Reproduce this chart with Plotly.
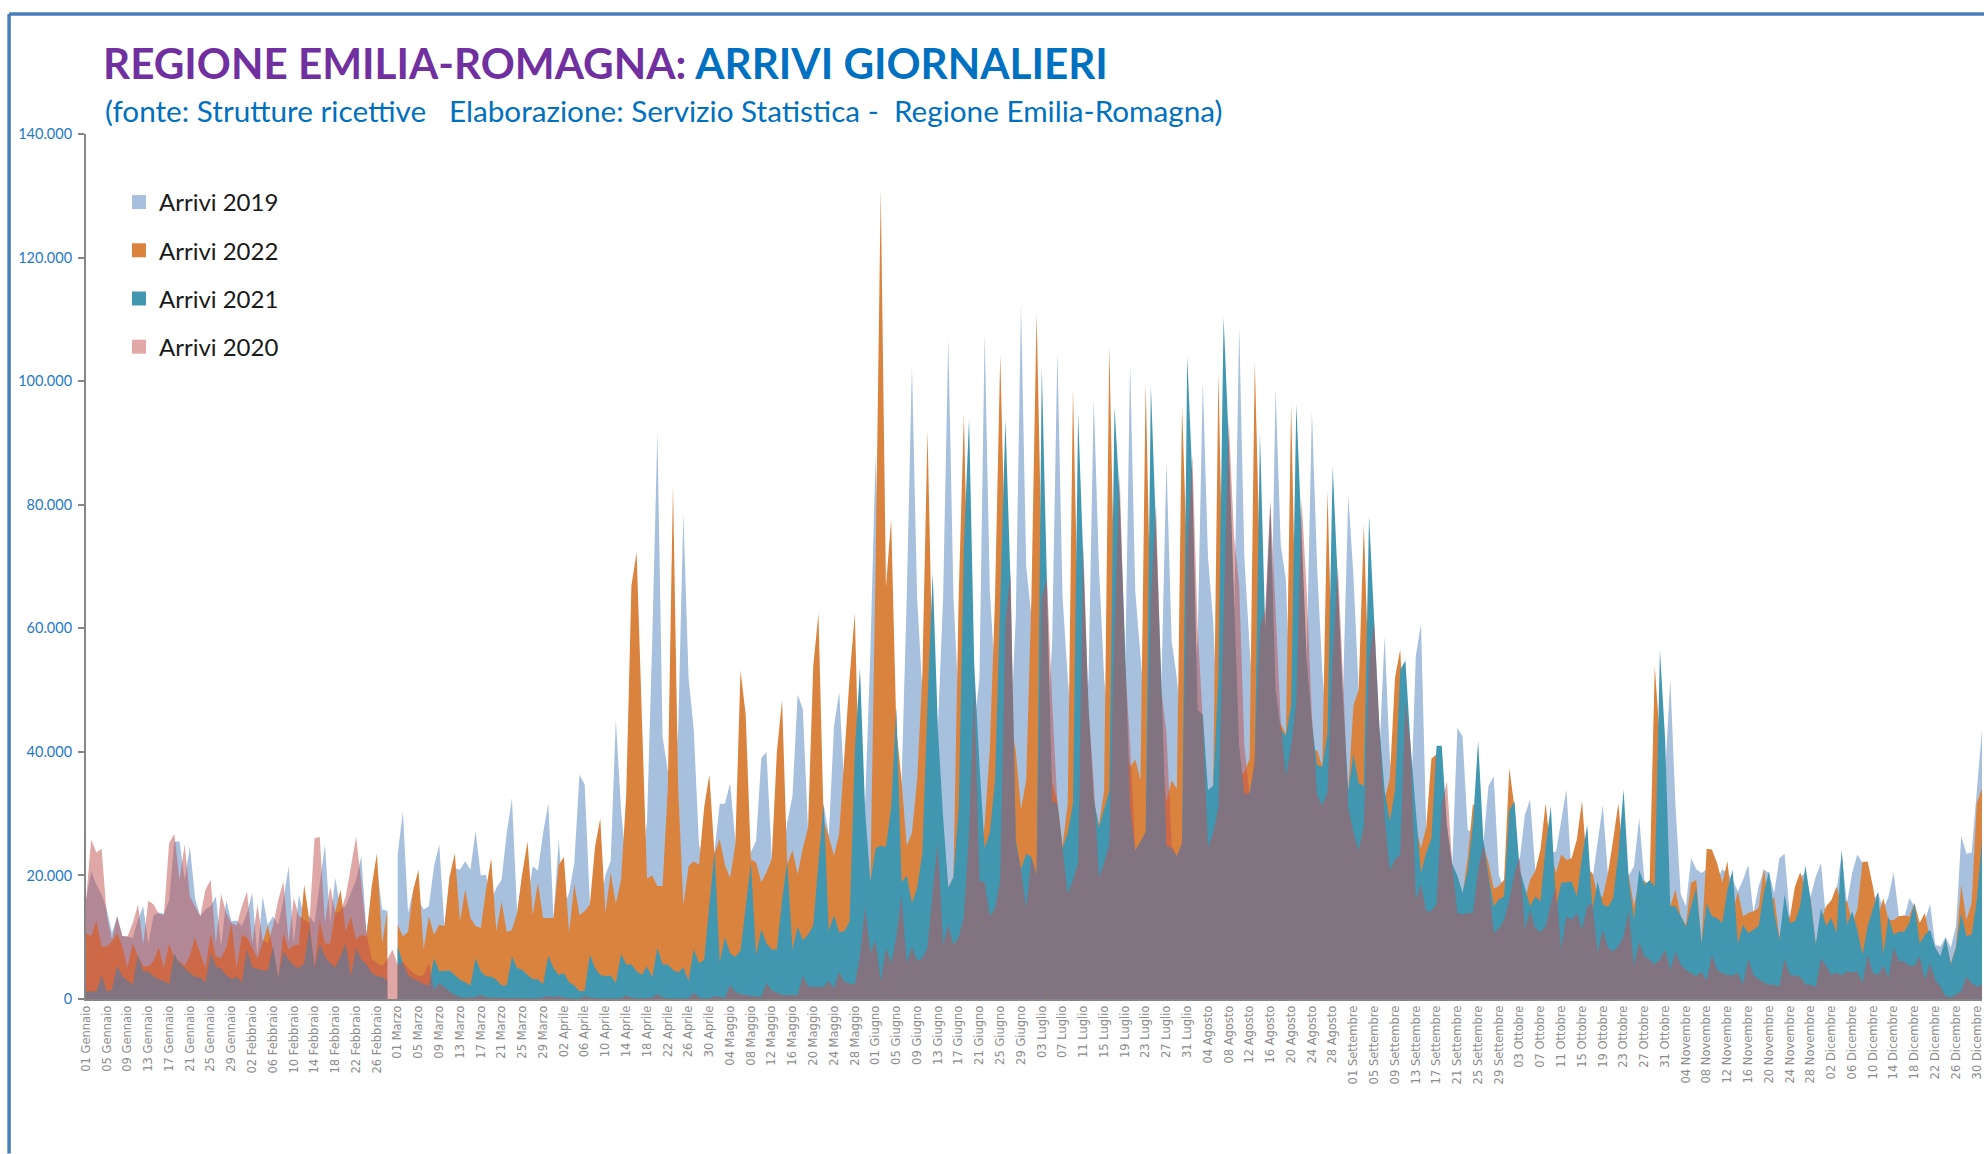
import plotly.graph_objects as go

MONTHS = [("Gennaio", 31), ("Febbraio", 29), ("Marzo", 31), ("Aprile", 30), ("Maggio", 31), ("Giugno", 30),
          ("Luglio", 31), ("Agosto", 31), ("Settembre", 30), ("Ottobre", 31), ("Novembre", 30), ("Dicembre", 31)]
DAYS = [f"{d:02d} {m}" for m, n in MONTHS for d in range(1, n + 1)]
N = None

# Values in thousands of arrivals, one block per month
ARRIVI_2019 = [
 16,20.7,18.5,16.9,14.5,10.7,13.4,10.2,10.1,9.9,12.8,15,9,13.5,14,13.8,16,25.5,25.5,19.3,24.7,16.3,13.4,14.5,15,16.6,8.5,16,12.6,12.7,11.8,
 13.9,17.2,6.9,16.6,12,13.4,12,16,21.5,9,16.9,13.1,13.4,12.3,18.8,25,12.3,19.6,14.5,15,17.2,19.3,23.1,10.7,17.7,21.5,14.5,14.3,N,
 23.4,30.4,13.9,17.7,16,14.5,15,21.5,25,11.8,19.8,21.2,20.9,22.3,20.9,27.2,20,20.1,16,18,19.3,26.9,32.5,13.9,20.4,16,21.5,20.8,26.9,31.7,13.1,
 25.8,15,17.2,22,36.3,34.7,15.5,16,15,20.1,22.3,45.2,30.6,21.5,20,25,22,28.6,58,91.8,42.4,37,32,43.6,78.6,52,43.6,25,22,20,
 24,31.6,31.6,34.9,25.6,22,20,23.8,25.6,39,40,23,20,22,28.6,32.8,49.3,46.9,27.4,26,25,31.6,26.5,44.2,49.7,34,30,28,30,32,56,
 88,62,46,30,30,35,65,102.6,65,50,42,35,44,65,106.9,65,48,42,42,44,52,107.7,66,52,45,40,43,62,112.4,70,
 62,45,40,42,58,104.8,65,52,42,38,42,52,97.1,70,52,42,40,42,50,103,66,56,45,44,40,50,87,58,52,42,44,
 50,58,99.9,71.4,61,42,40,40,60,108.9,71.4,57,45,42,45,50,98.8,73.5,67.8,44,43,45,55,95.2,70,53,42,40,43,50,81.5,
 68.5,50,38,35,40,40,58.7,38.9,33,30,28,30,55.5,60.7,28,24,22,22,28,21.5,43.9,42.5,27.3,27,25,25,34.5,36,20,18,
 16,22,22.5,29.8,32.3,21,20,20,23.6,23.9,29,33.9,20,17,20,23,19.3,25.8,31.4,20,18.8,20,23,20,21.5,29.3,19.3,18.2,17.7,25.8,36.6,
 51.7,31.2,17,15,22.8,21,20.4,21,23,19.3,21,20.4,19.3,17.4,19.3,21.7,13.9,18.2,20.9,20.4,17.2,22.8,23.5,13.4,13.4,19.8,20.4,16.6,19.8,22,
 12.8,15.8,17.7,23.6,15.5,20.4,23.4,22,22,16,17.2,14.5,16.6,20.5,13.4,13,16.3,15,12.3,12.6,15.4,8.8,8.5,10,8.3,11.8,26.4,23.5,23.7,33.9,43.6,
]
ARRIVI_2022 = [
 10.7,10.1,12.7,8.4,8.5,9.3,10.7,8.5,5,9,6.9,5.4,5.3,6.1,8.4,5,9,6.6,6.1,5.4,7,9.9,7.4,5,10.5,6.9,6.6,8.3,12.3,5,10.4,
 10,8.3,6.5,9,12,8,3.4,10.7,8,8.7,8.8,18.5,12.8,5.3,12.8,9,9,14.2,17.7,10.9,13.4,9.6,10.4,10.1,18.2,23.6,9,14.2,N,
 12,10.1,10.9,17.7,20.9,8,13.4,10.4,12,11.8,19.8,23.6,12.6,17.7,13.1,11.8,11.5,17.7,22.8,10.9,15.8,10.8,11.2,13.9,20.4,25.5,13.6,18.8,13.1,13.1,13.1,
 21.7,23,10.7,18.6,13.6,14.2,15.3,24.7,29.2,13.9,20.5,15.4,19.3,33,66.9,72.3,46,19.5,20,18.3,18.3,34,83.1,34,15.1,21.5,22.3,21.7,31,36.3,
 23.5,25.9,21.7,19.6,25,53.2,46,22.6,22.1,18.9,20.5,22.6,40,48.4,21.7,24.1,20.2,24.4,27.7,53.8,62.4,29,26.2,23.2,26.8,40,52,62.4,30,28.6,18.7,
 70,131,66.7,77.7,43.8,35.4,24.8,26.9,35.4,52.3,92,52,29.9,27.8,18,19.7,65,94.6,56.5,44.7,22.7,28.2,40.4,65,104.3,70,45,40,30.7,35.4,
 65,111,70,45,35,32,24.8,31.6,98.8,60,45,40,32,28.2,33.7,105.6,65,50,42,37.5,38.8,35.4,99.7,60,45,40,32,35.4,34,96,70,
 46,40,36,33,34.6,101.4,60,46,38,36,36.7,38.9,103.2,70,50,45,40,44.6,42.8,96.3,55,42,40,40,40.3,37.6,82.2,50,45,42,33.8,
 47.5,50,76.8,50,40,35,32.4,35.6,52,56.6,40,30,28,24.4,27.7,38.9,39.6,30,22,19,20,16.8,23,31.6,30,25,22,17.9,18.3,19.3,
 37.4,31,17.7,16,19.3,20.7,24.2,31.7,23.6,20.4,23.4,22.5,22.8,25.8,32,21,20.4,16.6,16.6,20.4,25.8,31.7,22,19.9,15,19.3,19,18.2,53.8,42,20.4,
 15,17.7,13.4,12,18.8,19.3,9,24.3,24.2,22,18.8,22.3,14,17.4,13.4,13.9,14.2,14.7,21.2,15,16.6,10,13.6,13.1,18.2,20.5,18,16.3,9,12.8,
 15,16,18.2,15,16,12.3,14.5,22.2,22.2,18.2,13.4,16.3,12.8,12.8,13.4,13.5,13.4,15.5,12.3,13.9,9.6,8.3,6.8,9.8,5.8,8.5,18.5,12.8,15.5,31.7,34.1,
]
ARRIVI_2021 = [
 1.2,1.2,1.2,3.9,1.2,1.5,5.4,3.7,2.9,2.3,7.2,4.5,4.4,3.7,3.2,2.9,2.4,7.3,5.8,5,4.2,3.6,3.5,2.7,7.5,5.3,4.9,3.9,3.2,3.6,2.7,
 8.1,5.1,4.9,4.6,4.6,8.5,3.4,7.7,6.4,5.4,5,5.8,11.5,5,9,6.9,5.8,5.1,6.9,9,3.7,8.3,6.4,5.6,4.2,3.7,3.6,3,N,
 8.5,5.8,3.9,3.2,2.9,2.4,2.2,6.6,4.5,4.5,4.6,3.9,3.1,2.7,2.2,6.6,4.5,3.7,3.6,3.1,2.2,2.2,6.9,5,4.7,3.9,3.2,3.2,2.4,7,5,
 3.9,4.2,2.7,2.2,1.3,1.3,7.2,5,3.9,3.7,3.8,2.6,7.3,5.6,5.6,4.5,3.9,5.3,3.5,8.3,5.6,5.6,4.7,4.3,5.1,2.9,8.1,5.8,6.3,15,
 24,5.9,10,7.4,6.8,7.8,15,22,7.1,11.3,9,8,8,16,22.3,8,11.7,9.5,10.4,11.9,22,31.6,11,13.6,10.8,11,12.5,40,53.5,30.4,18.9,
 24.4,24.8,24.6,31,47.2,18.9,20,15.5,18,23.5,48,69,43.8,29.4,18,19.7,31,73,94,54,37.9,24.4,27,35.4,65,93.8,67,25.6,21,23.5,
 23,20.1,102.2,66,32,31.6,24.4,26.9,31.6,94.6,70,47.2,32.4,27.8,30.7,33.7,95.9,81,58,31,24,25.6,27,99.3,76,52,24.8,24.4,23.1,25.2,104,
 84,46.8,46,33.8,34.5,52,110.4,90,65,41,33,33.4,38,91.6,60,80,50,43.6,42.6,47.5,96.3,77,55,44.6,37.8,37.6,43,86.2,67,48.3,33.8,
 39.6,34.9,34.5,78.2,61,43.9,33.8,28.8,33.8,53.3,54.8,41,30.6,20.4,23.7,25.9,41,41,28,21.9,20,17.2,20.8,28.4,41.8,25.9,20,15,16.1,16.6,
 30.6,32,21,18.2,15,16.6,15.8,24.7,31.2,15,18.8,18.9,19,16.6,23,28.2,14.5,19,15.3,14.9,16.3,23.6,33.9,19.3,12.8,20.9,18.5,19.2,18.2,56.5,42,
 15,15,13.4,11.7,15,18,9,15.5,13.4,13.1,12.3,17.7,20.9,9,12,10.7,11.2,11.8,17.2,20.7,13.9,9.6,16.9,12.3,12.6,15,21.6,16,8.8,14.7,
 11.8,13.1,10.7,24.2,12,14.2,11.2,7.2,11.8,14.5,17.4,7.2,13.4,10.4,10.9,10.9,12.3,15.5,9,10.4,11.2,8.3,6.9,9.9,5.6,8.3,13.9,10.2,10.4,16,25.8,
]
ARRIVI_2020 = [
 16,25.8,23.7,24.3,13.6,9.6,13.4,10.2,10.1,12.3,15.3,8.8,15.9,15.3,13.8,13.6,25.2,26.7,19.3,25,16.6,15,13.4,17.7,19.3,9,17,13.9,12.3,11.9,15,
 17.4,9,15.3,9.6,9,11.8,16,19,9.3,16.3,13.4,12.8,12.3,26,26.2,12.3,18.2,13.9,14.2,16.6,21.5,26.3,18.8,10.7,6.4,5.8,5.3,6.4,8,
 5.5,6.1,5,4.2,3.7,3.9,5.8,1.5,2.6,1.9,1.2,.7,.3,.2,.2,.3,.7,.3,.2,.2,.2,.1,.1,.1,.1,.1,.2,.1,.3,.5,.3,
 .5,.2,.1,.1,.1,.5,.2,.1,.1,.1,.1,.1,.1,.6,.2,.1,.1,.1,.2,.8,.3,.1,.1,.1,.1,.1,1,.3,.1,.1,
 .5,.3,.2,2.3,1.1,.8,.6,.5,.4,.3,2.6,1.4,1,.7,.6,.6,.6,3.8,2,2,1.9,2,2.9,1.7,4.4,2.8,2.5,2.3,7,15,7.4,
 9.6,2.8,8.3,5.8,10,16.8,5.8,8.5,6.2,6.6,8.3,17.6,25.2,8.7,12.1,8.7,10,13.4,27,51,19,19,13.4,14.7,19.3,61,69,25,21,14.6,
 23,20,65,68,48,31.6,24.4,16.9,19.3,22,73.5,47,35,19.7,22,25,60,85,55,41,24,25.6,27,65,80,50,43,24.8,23.1,25.2,73,
 88,60,45,24.4,27,31,62,93.8,75,67,41,33,39,60,63,80.8,63,45,36,41,48,81,66,46,33,31.3,33.4,55.5,70,52,31,
 27,24,28,55,61,44,29.5,20.8,22.6,23.3,48,41,16.1,18.6,14.2,14.2,15.4,31.6,35.3,22,13.9,13.7,13.9,13.9,20.8,25,19.4,10.7,11.4,12.8,
 16,20.4,23,11.2,14.5,11.5,10.8,11.8,15.5,18.2,8,13.4,12.8,13.9,11.2,15,15.5,7.4,11.2,8.3,7.7,8.5,10.1,14.5,5.3,9.3,6.9,6.4,5.6,6.4,8,
 4.7,7.7,5.6,4.7,4.2,3.7,4.5,2.9,7.2,4.7,4.2,3.9,3.8,4.2,2.3,6.5,3.9,3.2,2.7,2.3,2.3,2,6.6,3.9,3.8,3.6,2.4,2.3,1.9,6.6,
 5.3,3.9,4.3,3.8,4.5,4.3,4.5,2.6,7.2,4.2,3.9,5.4,3.4,8.4,6.1,6.1,5.4,5.4,6.9,3.1,5.8,3.1,2,.4,.3,.7,1.2,3.6,2.6,2,2.3,
]
for s in (ARRIVI_2019, ARRIVI_2022, ARRIVI_2021, ARRIVI_2020):
    assert len(s) == len(DAYS), len(s)

SERIES = [
    ("Arrivi 2019", ARRIVI_2019, "#A7C0DE", "#A7C0DE"),
    ("Arrivi 2022", ARRIVI_2022, "#DA833E", "#DA833E"),
    ("Arrivi 2021", ARRIVI_2021, "#4297B0", "#4297B0"),
    ("Arrivi 2020", ARRIVI_2020, "rgba(192,80,77,0.5)", "#E0A8A6"),
]
TITLE_A = "REGIONE EMILIA-ROMAGNA:"
TITLE_B = "ARRIVI GIORNALIERI"
SUBTITLE = "(fonte: Strutture ricettive   Elaborazione: Servizio Statistica -  Regione Emilia-Romagna)"

W, H = 1986, 1154
L, R, T, B = 86, 1984, 134, 999.5
px = lambda v: (v - L) / (R - L)
py = lambda v: (B - v) / (B - T)


def runs(vals):
    """Index ranges of unbroken data: a filled trace would bridge a blank day, so each run gets its own trace."""
    out, start = [], None
    for i, v in enumerate(vals + [None]):
        if v is None and start is not None:
            out.append((start, i))
            start = None
        elif v is not None and start is None:
            start = i
    return out


fig = go.Figure()
for name, vals, fill, swatch in SERIES:
    for a, b in runs(vals):
        fig.add_trace(go.Scatter(
            x=DAYS[a:b], y=[v * 1000 for v in vals[a:b]], name=name, mode="lines",
            line=dict(width=0), fill="tozeroy", fillcolor=fill, showlegend=False, legendgroup=name))
for name, vals, fill, swatch in SERIES:
    fig.add_trace(go.Scatter(
        x=[None], y=[None], name=name, mode="markers", legendgroup=name,
        marker=dict(symbol="square", size=14, color=swatch)))

fig.update_layout(
    width=W, height=H, paper_bgcolor="white", plot_bgcolor="white",
    margin=dict(l=L, r=W - R, t=T, b=H - B, pad=0),
    separators=",.",
    font=dict(family="Lato"),
    title=dict(
        text=f'<span style="color:#7030A0">{TITLE_A}</span> <span style="color:#0070C0">{TITLE_B}</span>',
        font=dict(family="Lato", size=42.2, weight="bold"),
        xref="container", yref="container", x=103 / W, xanchor="left", y=1 - 64 / H, yanchor="middle"),
    annotations=[dict(text=SUBTITLE, xref="paper", yref="paper", x=px(103), y=py(110), xanchor="left",
                      yanchor="middle", showarrow=False, font=dict(family="Lato", size=29.7, color="#0070C0"))],
    legend=dict(x=px(119), y=py(180), xanchor="left", yanchor="top", tracegroupgap=14,
                font=dict(family="Lato", size=24, color="#1A1A1A"), bgcolor="rgba(0,0,0,0)",
                traceorder="grouped", itemclick=False, itemdoubleclick=False),
    shapes=[
        dict(type="line", xref="paper", yref="paper", x0=px(9), x1=px(9), y0=py(14), y1=py(H),
             line=dict(color="#4A7EBB", width=3.5)),
        dict(type="line", xref="paper", yref="paper", x0=px(9), x1=px(W), y0=py(14), y1=py(14),
             line=dict(color="#4A7EBB", width=3.5)),
    ],
    xaxis=dict(type="category", categoryorder="array", categoryarray=DAYS, range=[0, len(DAYS) - 1],
               tickmode="array", tickvals=DAYS[::4], ticktext=DAYS[::4], tickangle=-90, ticks="",
               tickfont=dict(family="DejaVu Sans", size=11.5, color="#8C8C8C"),
               showgrid=False, zeroline=False, showline=True, linecolor="#868686", linewidth=2),
    yaxis=dict(range=[0, 140000], tick0=0, dtick=20000, tickformat=",d", ticks="outside", ticklen=6,
               tickwidth=2, tickcolor="#868686", ticklabelstandoff=3,
               tickfont=dict(family="Lato", size=14.5, color="#1F78C8"),
               showgrid=False, zeroline=False, showline=True, linecolor="#868686", linewidth=2),
)

fig.write_html("out.html", config={"displayModeBar": False},
               post_script="document.body.style.margin='0';document.body.style.overflow='hidden';")
